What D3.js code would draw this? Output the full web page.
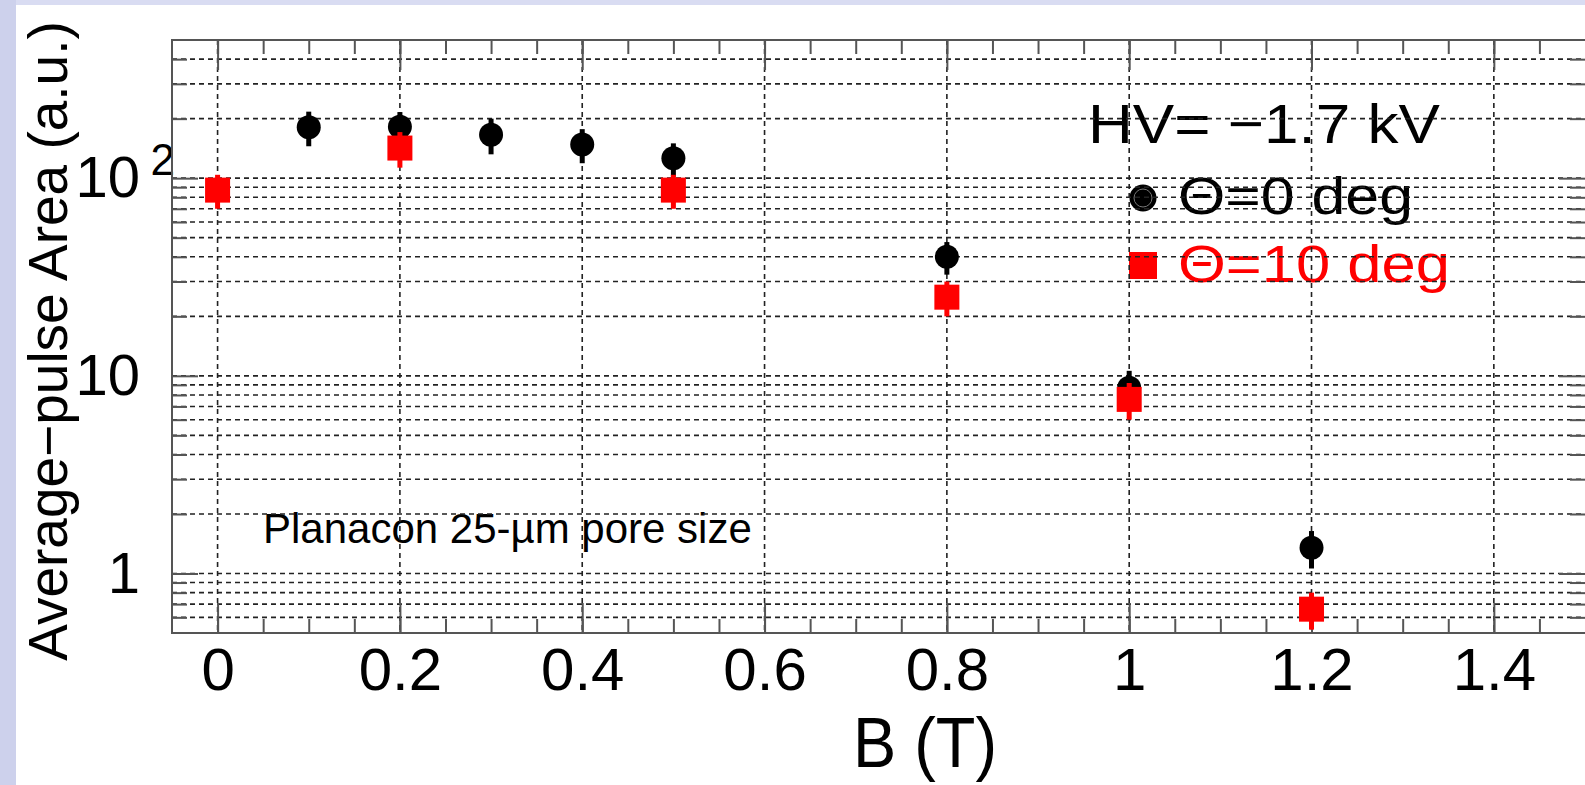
<!DOCTYPE html>
<html><head><meta charset="utf-8">
<script src="https://cdn.jsdelivr.net/npm/d3@7"></script>
<style>
body{margin:0;background:#fff;}
svg{display:block;}
text{font-family:"Liberation Sans",Arial,Helvetica,sans-serif;}
</style>
</head><body>
<svg id="c" width="1585" height="785"></svg>
<script>
// ---- data ----
const b0 = [0.1, 0.2, 0.3, 0.4, 0.5, 0.8, 1.0, 1.2];          // B (T), theta = 0 deg
const area0 = [181, 182, 166, 148, 126, 40, 8.7, 1.35];
const err0 = [36, 34, 34, 29, 24, 7.5, 1.9, 0.29];
const b10 = [0, 0.2, 0.5, 0.8, 1.0, 1.2];                      // B (T), theta = 10 deg
const area10 = [87, 142, 87, 25, 7.6, 0.66];
const err10 = [17, 29, 17, 5, 1.6, 0.14];
const xTicks = [0, 0.2, 0.4, 0.6, 0.8, 1.0, 1.2, 1.4];
const xTickLabels = ["0", "0.2", "0.4", "0.6", "0.8", "1", "1.2", "1.4"];
const yMajor = [1, 10, 100];
const yTickLabels = ["1", "10", "10"];
const legendLabels = ["HV= \u22121.7 kV", "\u0398=0 deg", "\u0398=10 deg"];
const noteText = "Planacon 25-\u00B5m pore size";
const xTitle = "B (T)";
const yTitle = "Average\u2212pulse Area (a.u.)";

// ---- layout ----
const svg = d3.select("#c");
const L = 172, T = 40, R = 1585, B = 633;
const x = d3.scaleLinear().domain([-0.05, 1.5]).range([L, R]);
const y = d3.scaleLog().domain([0.5, 500]).range([B, T]);
const xMinor = d3.range(-0.05, 1.5001, 0.05).map(v => +v.toFixed(2)).filter(v => v > -0.05 && v < 1.5);
const yAll = y.ticks().filter(v => v > 0.5 && v < 500);
const yMinor = yAll.filter(v => !yMajor.includes(v));

// background
svg.append("rect").attr("width", 1585).attr("height", 785).attr("fill", "#fff");
svg.append("rect").attr("x", 0).attr("y", 0).attr("width", 1585).attr("height", 5).attr("fill", "#d9dcf2");
svg.append("rect").attr("x", 0).attr("y", 0).attr("width", 16).attr("height", 785).attr("fill", "#cdd1ec");

// legend (under grid)
const lg = svg.append("g");
lg.append("text").attr("x", 1088).attr("y", 143).attr("font-size", 56).attr("fill", "#000")
  .attr("textLength", 352).attr("lengthAdjust", "spacingAndGlyphs").text(legendLabels[0]);
lg.append("circle").attr("cx", 1143).attr("cy", 198).attr("r", 13.5).attr("fill", "#000");
lg.append("circle").attr("cx", 1143).attr("cy", 198).attr("r", 9).attr("fill", "none").attr("stroke", "#777").attr("stroke-width", 1);
lg.append("text").attr("x", 1178).attr("y", 214).attr("font-size", 51).attr("fill", "#000")
  .attr("textLength", 235).attr("lengthAdjust", "spacingAndGlyphs").text(legendLabels[1]);
lg.append("rect").attr("x", 1129).attr("y", 252).attr("width", 28).attr("height", 27).attr("fill", "#ff0000");
lg.append("text").attr("x", 1178).attr("y", 282).attr("font-size", 51).attr("fill", "#ff0000")
  .attr("textLength", 272).attr("lengthAdjust", "spacingAndGlyphs").text(legendLabels[2]);

// note
svg.append("text").attr("x", 263).attr("y", 543).attr("font-size", 42).attr("fill", "#000").text(noteText);

// grid
const grid = svg.append("g").attr("stroke", "#222").attr("stroke-width", 1.6).attr("stroke-dasharray", "5,4").attr("fill", "none");
grid.selectAll(".gx").data(xTicks).join("line")
  .attr("x1", d => x(d)).attr("x2", d => x(d)).attr("y1", T).attr("y2", B);
grid.selectAll(".gy").data(yAll).join("line")
  .attr("x1", L).attr("x2", R).attr("y1", d => y(d)).attr("y2", d => y(d));

// axes
function style(g) {
  g.select(".domain").remove();
  g.selectAll(".tick line").attr("stroke", "#555").attr("stroke-width", 2);
}
const fmtX = d => xTickLabels[xTicks.indexOf(d)];
svg.append("g").attr("transform", `translate(0,${B})`)
  .call(d3.axisBottom(x).tickValues(xTicks).tickSize(-30).tickPadding(14).tickFormat(fmtX))
  .call(style)
  .call(g => g.selectAll("text").attr("font-size", 60).attr("fill", "#000").attr("font-family", "Liberation Sans, Arial, sans-serif"));
svg.append("g").attr("transform", `translate(0,${B})`)
  .call(d3.axisBottom(x).tickValues(xMinor).tickSize(-14).tickFormat(""))
  .call(style);
svg.append("g").attr("transform", `translate(0,${T})`)
  .call(d3.axisTop(x).tickValues(xTicks).tickSize(-30).tickFormat(""))
  .call(style);
svg.append("g").attr("transform", `translate(0,${T})`)
  .call(d3.axisTop(x).tickValues(xMinor).tickSize(-14).tickFormat(""))
  .call(style);

const fmtY = d => yTickLabels[yMajor.indexOf(d)];
const yAx = svg.append("g").attr("transform", `translate(${L},0)`)
  .call(d3.axisLeft(y).tickValues(yMajor).tickSize(-26).tickPadding(32).tickFormat(fmtY))
  .call(style)
  .call(g => g.selectAll("text").attr("font-size", 58).attr("fill", "#000").attr("font-family", "Liberation Sans, Arial, sans-serif"));
yAx.selectAll(".tick").filter(d => d === 100).select("text")
  .append("tspan").attr("x", 3).attr("dy", "-0.5em").attr("font-size", 44).text("2");
svg.append("g").attr("transform", `translate(${L},0)`)
  .call(d3.axisLeft(y).tickValues(yMinor).tickSize(-15).tickFormat(""))
  .call(style);
svg.append("g").attr("transform", `translate(${R},0)`)
  .call(d3.axisRight(y).tickValues(yMajor).tickSize(-26).tickFormat(""))
  .call(style);
svg.append("g").attr("transform", `translate(${R},0)`)
  .call(d3.axisRight(y).tickValues(yMinor).tickSize(-15).tickFormat(""))
  .call(style);

// frame
svg.append("path").attr("d", `M${R},${T}H${L}V${B}H${R}`).attr("fill", "none").attr("stroke", "#555").attr("stroke-width", 2);

// titles
svg.append("text").attr("x", 925).attr("y", 767).attr("text-anchor", "middle").attr("font-size", 70)
  .attr("textLength", 144).attr("lengthAdjust", "spacingAndGlyphs").text(xTitle);
svg.append("text").attr("transform", "translate(67,341) rotate(-90)").attr("text-anchor", "middle")
  .attr("font-size", 55).text(yTitle);

// series theta=0 (black circles)
const d0 = b0.map((b, i) => ({b, v: area0[i], e: err0[i]}));
const d10 = b10.map((b, i) => ({b, v: area10[i], e: err10[i]}));
const s0 = svg.append("g");
s0.selectAll("line").data(d0).join("line")
  .attr("x1", d => x(d.b)).attr("x2", d => x(d.b))
  .attr("y1", d => y(d.v + d.e)).attr("y2", d => y(d.v - d.e))
  .attr("stroke", "#000").attr("stroke-width", 5);
s0.selectAll("circle").data(d0).join("circle")
  .attr("cx", d => x(d.b)).attr("cy", d => y(d.v)).attr("r", 12).attr("fill", "#000");
// series theta=10 (red squares)
const s10 = svg.append("g");
s10.selectAll("line").data(d10).join("line")
  .attr("x1", d => x(d.b)).attr("x2", d => x(d.b))
  .attr("y1", d => y(d.v + d.e)).attr("y2", d => y(d.v - d.e))
  .attr("stroke", "#ff0000").attr("stroke-width", 5);
s10.selectAll("rect").data(d10).join("rect")
  .attr("x", d => x(d.b) - 12.5).attr("y", d => y(d.v) - 12.5).attr("width", 25).attr("height", 25).attr("fill", "#ff0000");
</script>
</body></html>
